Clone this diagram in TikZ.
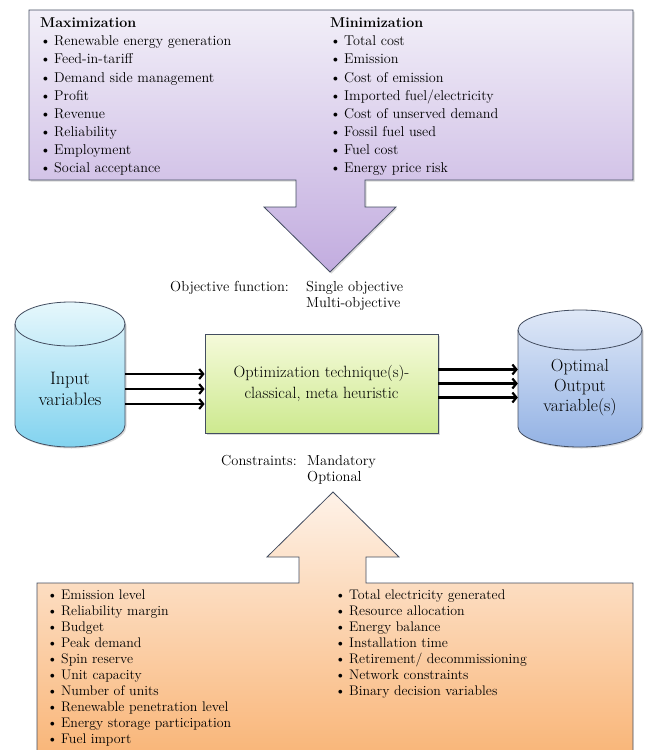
\documentclass[tikz,border=0pt]{standalone}
\usepackage{fontspec}
\usetikzlibrary{arrows.meta,shadows}

\definecolor{lavtop}{HTML}{F2EFF8}
\definecolor{lavbot}{HTML}{C2ACDF}
\definecolor{peachtop}{HTML}{FEF2E8}
\definecolor{peachbot}{HTML}{F9B679}
\definecolor{limetop}{HTML}{F5FADA}
\definecolor{limebot}{HTML}{CDE98F}
\definecolor{cyantop}{HTML}{E6F7FC}
\definecolor{cyanbot}{HTML}{82D3EF}
\definecolor{bluetop}{HTML}{DFE8F7}
\definecolor{bluebot}{HTML}{93B2E4}
\definecolor{edgegray}{HTML}{434D60}

\tikzset{
  outline/.style={draw=edgegray, line width=0.8pt},
  soft shadow/.style={drop shadow={shadow xshift=1.5pt, shadow yshift=-1.5pt, opacity=0.3}},
  listtext/.style={inner sep=0pt, align=left, anchor=north west, font=\fontsize{14.2}{18.1}\selectfont},
  listsmall/.style={listtext, font=\fontsize{13.9}{16}\selectfont},
  label/.style={inner sep=0pt, font=\fontsize{14.5}{16.5}\selectfont},
  flow/.style={line width=2.2pt, -{Straight Barb[length=4pt,width=10pt]}},
}
\newcommand{\itm}{\makebox[14pt][l]{\textbullet}}

\begin{document}
\begin{tikzpicture}[x=1pt,y=1pt]

\useasboundingbox (0,0) rectangle (648,-750);

\path[outline, soft shadow, top color=lavtop, bottom color=lavbot] (29,-10) -- (633,-10) -- (633,-180) -- (365,-180) -- (365,-207) -- (396,-207) -- (330,-272) -- (264,-207) -- (296,-207) -- (296,-180) -- (29,-180) -- cycle;

\path[outline, top color=peachtop, bottom color=peachbot] (37,-753) -- (37,-583) -- (299,-583) -- (299,-557) -- (267,-557) -- (333,-492) -- (399,-557) -- (366,-557) -- (366,-583) -- (633,-583) -- (633,-753) -- cycle;

\path[outline, soft shadow, top color=cyantop, bottom color=cyanbot] (15,-324) -- (15,-425) arc[start angle=180, end angle=360, x radius=55, y radius=22] -- (125,-324) arc[start angle=0, end angle=180, x radius=55, y radius=22] -- cycle;
\draw[outline] (15,-324) arc[start angle=180, end angle=360, x radius=55, y radius=22];

\path[outline, soft shadow, top color=bluetop, bottom color=bluebot] (518,-330) -- (518,-427) arc[start angle=180, end angle=360, x radius=62, y radius=20] -- (642,-330) arc[start angle=0, end angle=180, x radius=62, y radius=20] -- cycle;
\draw[outline] (518,-330) arc[start angle=180, end angle=360, x radius=62, y radius=20];

\node[listtext] (maxlist) at (40,-17.8) {\textbf{Maximization}\\
  \itm Renewable energy generation\\ \itm Feed-in-tariff\\ \itm Demand side management\\ \itm Profit\\
  \itm Revenue\\ \itm Reliability\\ \itm Employment\\ \itm Social acceptance};
\node[listtext] (minlist) at (330,-17.8) {\textbf{Minimization}\\
  \itm Total cost\\ \itm Emission\\ \itm Cost of emission\\ \itm Imported fuel/electricity\\
  \itm Cost of unserved demand\\ \itm Fossil fuel used\\ \itm Fuel cost\\ \itm Energy price risk};

\node[label, anchor=base west] (objlab) at (170,-291) {Objective function:};
\node[label, align=left, anchor=north west] (objtype) at (306,-281) {Single objective\\Multi-objective};

\node[inner sep=0pt, minimum width=110pt, align=center, font=\fontsize{18}{21}\selectfont] (inp) at (70,-389) {Input\\variables};
\node[outline, soft shadow, top color=limetop, bottom color=limebot, minimum width=233pt, minimum height=99pt, align=center, font=\fontsize{16.3}{21}\selectfont] (opt) at (321.5,-383.5) {Optimization technique(s)-\\classical, meta heuristic};
\node[inner sep=0pt, minimum width=124pt, align=center, font=\fontsize{17.5}{20}\selectfont] (out) at (580,-388) {Optimal\\Output\\variable(s)};

\draw[flow] ([yshift=15pt]inp.east) -- ([yshift=15pt]inp.east -| opt.west);
\draw[flow] (inp.east) -- (inp.east -| opt.west);
\draw[flow] ([yshift=-15pt]inp.east) -- ([yshift=-15pt]inp.east -| opt.west);
\draw[flow] ([yshift=14pt]opt.east) -- ([yshift=14pt]opt.east -| out.west);
\draw[flow] (opt.east) -- (opt.east -| out.west);
\draw[flow] ([yshift=-14pt]opt.east) -- ([yshift=-14pt]opt.east -| out.west);

\node[label, anchor=base west] (conlab) at (221,-465) {Constraints:};
\node[label, align=left, anchor=north west] (contype) at (307,-455) {Mandatory\\Optional};

\node[listsmall] (conleft) at (47,-589.5) {\itm Emission level\\ \itm Reliability margin\\ \itm Budget\\ \itm Peak demand\\
  \itm Spin reserve\\ \itm Unit capacity\\ \itm Number of units\\ \itm Renewable penetration level\\
  \itm Energy storage participation\\ \itm Fuel import};
\node[listsmall] (conright) at (335,-589.5) {\itm Total electricity generated\\ \itm Resource allocation\\ \itm Energy balance\\
  \itm Installation time\\ \itm Retirement/ decommissioning\\ \itm Network constraints\\ \itm Binary decision variables};

\end{tikzpicture}
\end{document}
